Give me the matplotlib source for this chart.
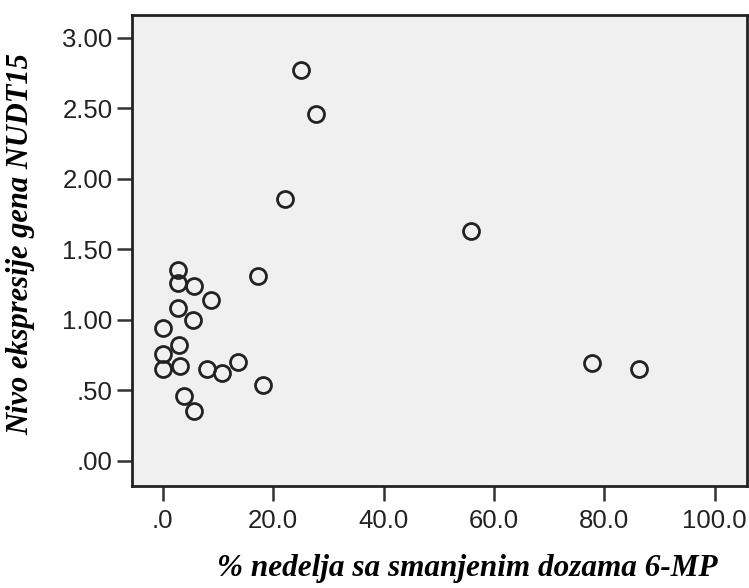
import matplotlib
matplotlib.use("Agg")
import matplotlib.pyplot as plt

# % of weeks with reduced 6-MP dose vs NUDT15 expression
pct_weeks = [25.0, 27.8, 22.2, 55.9, 17.2, 2.8, 2.7, 5.6, 8.7, 2.7, 5.4, 0.0,
             2.9, 0.0, 0.0, 3.1, 8.0, 10.7, 13.6, 18.2, 3.8, 5.6, 77.8, 86.2]
expression = [2.77, 2.46, 1.86, 1.63, 1.31, 1.35, 1.26, 1.24, 1.14, 1.08, 1.00, 0.94,
              0.82, 0.76, 0.65, 0.67, 0.65, 0.62, 0.70, 0.54, 0.46, 0.35, 0.69, 0.65]

xticks = [0, 20, 40, 60, 80, 100]
xticklabels = [".0", "20.0", "40.0", "60.0", "80.0", "100.0"]
yticks = [0, 0.5, 1.0, 1.5, 2.0, 2.5, 3.0]
yticklabels = [".00", ".50", "1.00", "1.50", "2.00", "2.50", "3.00"]

fig = plt.figure(figsize=(7.49, 5.88), dpi=100)
ax = fig.add_axes([0.176, 0.174, 0.821, 0.800])
ax.set_facecolor("#f0f0f0")

ax.plot(pct_weeks, expression, "o", ms=11.5, mfc="none", mec="#222222", mew=2.0)

ax.set_xlim(-5.6, 105.8)
ax.set_ylim(-0.177, 3.16)
ax.set_xticks(xticks)
ax.set_xticklabels(xticklabels)
ax.set_yticks(yticks)
ax.set_yticklabels(yticklabels)
ax.tick_params(labelsize=18.5, length=11, width=1.8, color="#333333",
               labelcolor="#222222")
ax.tick_params(axis="y", pad=3)
ax.tick_params(axis="x", pad=6)
for lab in ax.get_xticklabels() + ax.get_yticklabels():
    lab.set_family("Liberation Sans")
for s in ax.spines.values():
    s.set_linewidth(2)
    s.set_color("#222222")

fig.text(0.624, 0.008, "% nedelja sa smanjenim dozama 6-MP", ha="center", va="bottom",
         family="Liberation Serif", style="italic", weight="bold", fontsize=22.5)
fig.text(0.028, 0.585, "Nivo ekspresije gena NUDT15", ha="center", va="center",
         rotation=90, family="Liberation Serif", style="italic", weight="bold", fontsize=22)

fig.savefig("out.png", dpi=100)
